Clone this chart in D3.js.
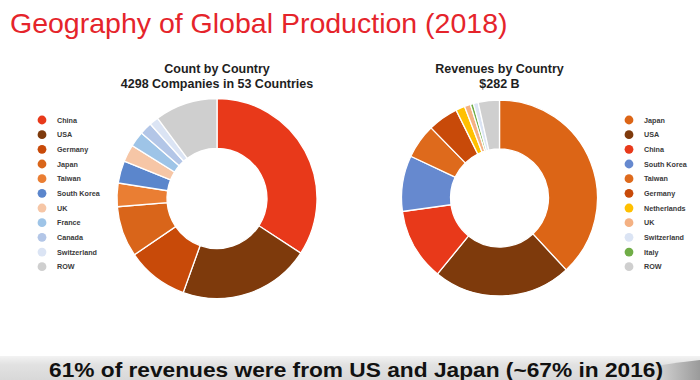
<!DOCTYPE html>
<html>
<head>
<meta charset="utf-8">
<script src="https://cdn.jsdelivr.net/npm/d3@7"></script>
<style>
  html, body { margin: 0; padding: 0; background: #ffffff; }
  svg { display: block; font-family: "Liberation Sans", Arial, sans-serif; }
</style>
</head>
<body>
<svg id="chart" width="700" height="380"></svg>
<script>
// ---- Data ----
const countCountries = ["China", "USA", "Germany", "Japan", "Taiwan", "South Korea", "UK", "France", "Canada", "Switzerland", "ROW"];
const countValues    = [1470, 915, 430, 352, 163, 155, 120, 107, 86, 64, 436];
const countColors    = ["#e8391a", "#7e3a0c", "#c84a09", "#d9651a", "#ea7e33", "#5b86cc", "#f6c6a6", "#9ec4e7", "#b3c6e7", "#dbe4f4", "#cfcfcf"];

const revCountries   = ["Japan", "USA", "China", "South Korea", "Taiwan", "Germany", "Netherlands", "UK", "Switzerland", "Italy", "ROW"];
const revValues      = [38.1, 22.8, 11.9, 9.2, 5.7, 5.0, 1.5, 1.0, 0.8, 0.5, 3.5];
const revColors      = ["#dc6516", "#7e3a0c", "#e8391a", "#6689cf", "#de6a1c", "#c84a09", "#ffc000", "#f4b183", "#dbe4f4", "#70ad47", "#cfcfcf"];
// order in which the revenue slices appear clockwise in the ring
const revDrawOrder   = ["Japan", "USA", "China", "South Korea", "Taiwan", "Germany", "Netherlands", "UK", "Italy", "Switzerland", "ROW"];

const titleText   = "Geography of Global Production (2018)";
const leftTitle   = ["Count by Country", "4298 Companies in 53 Countries"];
const rightTitle  = ["Revenues by Country", "$282 B"];
const footerText  = "61% of revenues were from US and Japan (~67% in 2016)";

// ---- Drawing ----
const svg = d3.select("#chart");
const defs = svg.append("defs");

// Title
svg.append("text")
  .attr("x", 10).attr("y", 33)
  .attr("font-size", 28.5)
  .attr("fill", "#e5242b")
  .text(titleText);

function donut(cx, cy, rOuter, rInner, names, values, colors, order, subtitle, legendX) {
  const data = order.map(n => {
    const i = names.indexOf(n);
    return { name: n, value: values[i], color: colors[i] };
  });
  const pie = d3.pie().sort(null).value(d => d.value);
  const arc = d3.arc().innerRadius(rInner).outerRadius(rOuter);
  const g = svg.append("g").attr("transform", `translate(${cx},${cy})`);
  g.selectAll("path")
    .data(pie(data))
    .join("path")
    .attr("d", arc)
    .attr("fill", d => d.data.color)
    .attr("stroke", "#ffffff")
    .attr("stroke-width", 1.3);

  // subtitle
  svg.append("text")
    .attr("x", cx).attr("y", 72.5)
    .attr("text-anchor", "middle")
    .attr("font-size", 12.5).attr("font-weight", "bold").attr("fill", "#1e1e1e")
    .text(subtitle[0]);
  svg.append("text")
    .attr("x", cx).attr("y", 87.5)
    .attr("text-anchor", "middle")
    .attr("font-size", 12.5).attr("font-weight", "bold").attr("fill", "#1e1e1e")
    .text(subtitle[1]);

  // legend (in legend order)
  const y = d3.scalePoint().domain(names).range([120, 266.7]);
  const lg = svg.append("g");
  const items = lg.selectAll("g")
    .data(names.map((n, i) => ({ name: n, color: colors[i] })))
    .join("g")
    .attr("transform", d => `translate(${legendX},${y(d.name)})`);
  items.append("circle").attr("r", 4.4).attr("fill", d => d.color);
  items.append("text")
    .attr("x", 15).attr("y", 2.6)
    .attr("font-size", 7.2).attr("font-weight", "bold").attr("fill", "#3a3a3a")
    .text(d => d.name);
}

donut(217, 198.5, 100, 50, countCountries, countValues, countColors, countCountries, leftTitle, 42);
donut(499.5, 198, 98, 49, revCountries, revValues, revColors, revDrawOrder, rightTitle, 629);

// Footer banner
const gv = defs.append("linearGradient").attr("id", "band").attr("x1", 0).attr("y1", 0).attr("x2", 0).attr("y2", 1);
gv.append("stop").attr("offset", "0%").attr("stop-color", "#f3f3f3");
gv.append("stop").attr("offset", "35%").attr("stop-color", "#e2e2e2");
gv.append("stop").attr("offset", "100%").attr("stop-color", "#d8d8d8");
svg.append("rect").attr("x", 0).attr("y", 356).attr("width", 700).attr("height", 24).attr("fill", "url(#band)");

const gr = defs.append("linearGradient").attr("id", "curl").attr("x1", 0).attr("y1", 0).attr("x2", 1).attr("y2", 0);
gr.append("stop").attr("offset", "0%").attr("stop-color", "#d8d8d8");
gr.append("stop").attr("offset", "100%").attr("stop-color", "#9a9a9a");
svg.append("path")
  .attr("d", "M655,366 Q680,362 700,360 L700,380 L655,380 Z")
  .attr("fill", "url(#curl)");

svg.append("text")
  .attr("x", 49).attr("y", 377)
  .attr("font-size", 20).attr("font-weight", "bold").attr("fill", "#111111")
  .attr("textLength", 614).attr("lengthAdjust", "spacingAndGlyphs")
  .text(footerText);
</script>
</body>
</html>
